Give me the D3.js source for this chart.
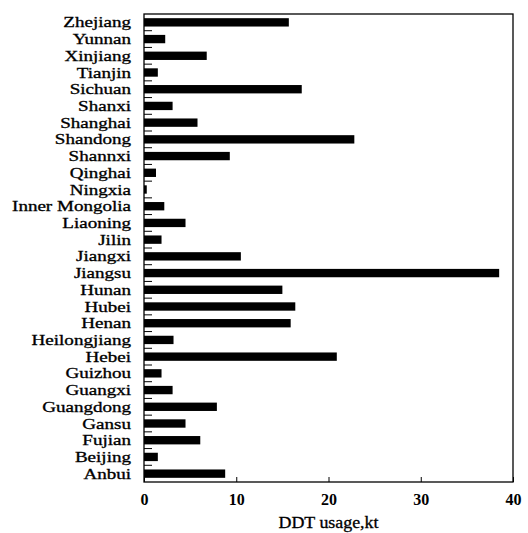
<!DOCTYPE html>
<html><head><meta charset="utf-8">
<script src="https://cdn.jsdelivr.net/npm/d3@7"></script>
<style>body{margin:0;background:#fff}</style>
</head><body>
<svg id="c" width="528" height="533"></svg>
<script>
const provinces = ["Zhejiang","Yunnan","Xinjiang","Tianjin","Sichuan","Shanxi","Shanghai","Shandong","Shannxi","Qinghai","Ningxia","Inner Mongolia","Liaoning","Jilin","Jiangxi","Jiangsu","Hunan","Hubei","Henan","Heilongjiang","Hebei","Guizhou","Guangxi","Guangdong","Gansu","Fujian","Beijing","Anbui"];
const usage = [15.7,2.3,6.8,1.5,17.1,3.1,5.8,22.8,9.3,1.3,0.3,2.2,4.5,1.9,10.5,38.5,15.0,16.4,15.9,3.2,20.9,1.9,3.1,7.9,4.5,6.1,1.5,8.8];
const xTicks = [0,10,20,30,40];
const xTitle = "DDT usage,kt";

const m = {l:144, r:513, t:14, b:482};
const svg = d3.select("#c");
const font = "'Liberation Serif', 'Times New Roman', serif";
const x = d3.scaleLinear().domain([0,40]).range([m.l, m.r]);
const y = d3.scaleBand().domain(provinces).range([m.t, m.b]).paddingInner(0.5).paddingOuter(0.25);

svg.append("g").selectAll("rect").data(provinces).join("rect")
  .attr("x", x(0)).attr("y", d => y(d))
  .attr("width", (d,i) => x(usage[i]) - x(0))
  .attr("height", y.bandwidth()).attr("fill", "#000");

// frame
svg.append("rect").attr("x", m.l).attr("y", m.t).attr("width", m.r-m.l).attr("height", m.b-m.t)
  .attr("fill","none").attr("stroke","#000").attr("stroke-width",1.3);

// y ticks at band boundaries (inward)
const bounds = d3.range(provinces.length+1).map(i => m.t + i*(m.b-m.t)/provinces.length);
svg.append("g").selectAll("line").data(bounds.slice(1,-1)).join("line")
  .attr("x1", m.l).attr("x2", m.l+8).attr("y1", d=>d).attr("y2", d=>d)
  .attr("stroke","#000").attr("stroke-width",1);

const xa = d3.axisBottom(x).tickValues(xTicks).tickSizeInner(-5).tickSizeOuter(0).tickPadding(12);
const gx = svg.append("g").attr("transform",`translate(0,${m.b})`).call(xa);
gx.select(".domain").remove();
gx.selectAll("text").attr("font-family", font).attr("font-size", 16).attr("font-weight","bold").attr("fill","#000");

const ya = d3.axisLeft(y).tickSize(0).tickPadding(13);
const gy = svg.append("g").attr("transform",`translate(${m.l},0)`).call(ya);
gy.select(".domain").remove();
gy.selectAll("text").attr("font-family", font).attr("font-size", 14).attr("fill","#000").attr("dy","0.36em")
  .attr("stroke","#000").attr("stroke-width",0.3)
  .each(function(){ const w = this.getComputedTextLength(); d3.select(this).attr("textLength", w*1.36).attr("lengthAdjust","spacingAndGlyphs"); });

const t = svg.append("text").attr("x", (m.l+m.r)/2).attr("y", 528).attr("text-anchor","middle")
  .attr("font-family", font).attr("font-size", 16).attr("stroke","#000").attr("stroke-width",0.3).text(xTitle);
t.attr("textLength", 100).attr("lengthAdjust","spacingAndGlyphs");
</script>
</body></html>
